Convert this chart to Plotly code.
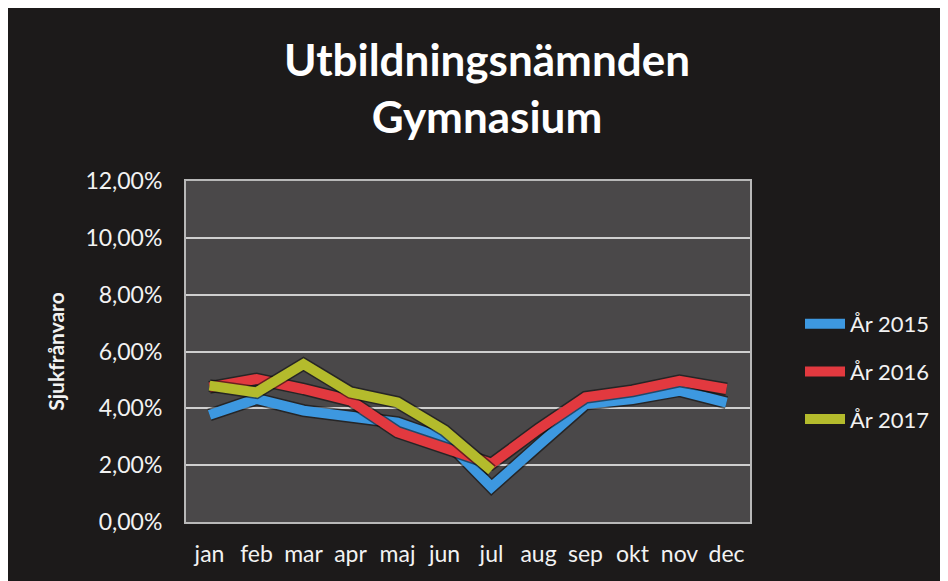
import plotly.graph_objects as go

months = ["jan", "feb", "mar", "apr", "maj", "jun", "jul", "aug", "sep", "okt", "nov", "dec"]
y2015 = [0.0377, 0.0433, 0.0392, 0.0372, 0.0350, 0.0292, 0.0123, 0.0270, 0.0415, 0.0433, 0.0462, 0.0420]
y2016 = [0.0474, 0.0503, 0.0468, 0.0427, 0.0316, 0.0257, 0.0205, 0.0327, 0.0439, 0.0462, 0.0497, 0.0468]
y2017 = [0.0480, 0.0456, 0.0556, 0.0456, 0.0421, 0.0322, 0.0181, None, None, None, None, None]
series_names = ["År 2015", "År 2016", "År 2017"]
series_colors = ["#3d98e0", "#e2393f", "#b4bb2c"]
y_ticks = [0, 0.02, 0.04, 0.06, 0.08, 0.10, 0.12]

# page body has an 8px margin, so the figure is drawn 8px in from the top-left
W, H = 940, 573
L, T = 178, 173
pw, ph = 564, 341
R = W - L - pw
B = H - T - ph

def px_x(x):
    return (x - L) / pw

def px_y(y):
    return (H - B - y) / ph

FONT = "Lato"
fig = go.Figure()

for name, vals, col in zip(series_names, [y2015, y2016, y2017], series_colors):
    fig.add_trace(go.Scatter(
        x=months, y=vals, mode="lines", name=name, legendgroup=name,
        line=dict(color="rgba(10,10,10,0.55)", width=13), showlegend=False, hoverinfo="skip",
    ))
    fig.add_trace(go.Scatter(
        x=months, y=vals, mode="lines", name=name, legendgroup=name,
        line=dict(color=col, width=10),
    ))

fig.update_layout(
    width=W, height=H,
    margin=dict(l=L, r=R, t=T, b=B),
    paper_bgcolor="#1c1a1a",
    plot_bgcolor="#4a4849",
    separators=", ",
    title=dict(
        text="<b>Utbildningsnämnden<br>Gymnasium</b>",
        x=479 / W, xref="container", xanchor="center",
        y=1 - 68 / H, yref="container", yanchor="top",
        font=dict(family=FONT, size=44, color="#ffffff"),
    ),
    font=dict(family=FONT, color="#f2f2f2", size=22),
    showlegend=True,
    legend=dict(
        x=px_x(792), y=px_y(295), xanchor="left", yanchor="top",
        bgcolor="rgba(0,0,0,0)", font=dict(family=FONT, size=22, color="#f2f2f2"),
        tracegroupgap=16, itemwidth=40,
    ),
)

fig.update_xaxes(
    type="category", categoryorder="array", categoryarray=months,
    range=[-0.5, len(months) - 0.5],
    showgrid=False, showline=True, linecolor="#b8b8b8", linewidth=2, mirror=True,
    ticks="", ticklabelstandoff=10,
    tickfont=dict(family=FONT, size=23, color="#f2f2f2"),
)
fig.update_yaxes(
    range=[0, 0.12], tickvals=y_ticks, tickformat=".2%",
    showgrid=True, gridcolor="#cfcfcf", gridwidth=2,
    showline=True, linecolor="#b8b8b8", linewidth=2, mirror=True,
    zeroline=False, ticks="", ticklabelstandoff=17,
    tickfont=dict(family=FONT, size=23, color="#f2f2f2"),
    title=dict(text="<b>Sjukfrånvaro</b>", standoff=15,
               font=dict(family=FONT, size=21, color="#f2f2f2")),
)

fig.write_html("out.html")
